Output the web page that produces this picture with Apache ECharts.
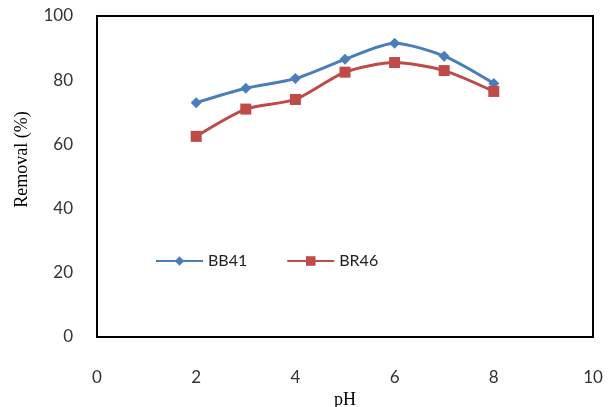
<!DOCTYPE html>
<html><head><meta charset="utf-8">
<script src="https://cdn.jsdelivr.net/npm/echarts@6/dist/echarts.min.js"></script>
<style>html,body{margin:0;padding:0;background:#fff}#c{width:614px;height:407px}</style>
</head><body><div id="c"></div>
<script>
const pH = [2, 3, 4, 5, 6, 7, 8];
const bb41 = [73, 77.5, 80.5, 86.5, 91.5, 87.5, 79];
const br46 = [62.5, 71, 74, 82.5, 85.5, 83, 76.5];
const xTicks = [0, 2, 4, 6, 8, 10];
const yTicks = [0, 20, 40, 60, 80, 100];

const chart = echarts.init(document.getElementById('c'));
chart.setOption({
  backgroundColor: '#fff',
  animation: false,
  grid: {left: 97, right: 21, top: 16, bottom: 70, show: true, borderColor: '#000', borderWidth: 2,
         containLabel: false, outerBoundsMode: 'none'},
  legend: {
    left: 150, top: 248, itemGap: 39, itemWidth: 47, itemHeight: 12,
    textStyle: {fontFamily: 'Lato', fontSize: 16, color: '#222'},
    data: ['BB41', 'BR46']
  },
  xAxis: {
    type: 'value', min: xTicks[0], max: xTicks[xTicks.length-1], interval: 2,
    name: 'pH', nameLocation: 'middle', nameGap: 46,
    nameTextStyle: {fontFamily: 'Liberation Serif', fontSize: 18, color: '#000'},
    axisLine: {show: false}, axisTick: {show: false}, splitLine: {show: false},
    axisLabel: {margin: 32, fontFamily: 'Lato', fontSize: 17, color: '#333'}
  },
  yAxis: {
    type: 'value', min: yTicks[0], max: yTicks[yTicks.length-1], interval: 20,
    name: 'Removal (%)', nameLocation: 'middle', nameGap: 66, nameRotate: 90,
    nameTextStyle: {fontFamily: 'Liberation Serif', fontSize: 18, color: '#000', padding: [0, 0, 0, 34]},
    axisLine: {show: false}, axisTick: {show: false}, splitLine: {show: false},
    axisLabel: {margin: 24, fontFamily: 'Lato', fontSize: 17, color: '#333'}
  },
  series: [
    {name: 'BB41', type: 'line', smooth: 0.25, symbol: 'diamond', symbolSize: 11,
     data: pH.map((x, i) => [x, bb41[i]]),
     lineStyle: {width: 3, color: '#4a7ebb'}, itemStyle: {color: '#4a7ebb'}},
    {name: 'BR46', type: 'line', smooth: 0.25, symbol: 'rect', symbolSize: 11,
     data: pH.map((x, i) => [x, br46[i]]),
     lineStyle: {width: 3, color: '#be4b48'}, itemStyle: {color: '#be4b48'}}
  ]
});
</script></body></html>
